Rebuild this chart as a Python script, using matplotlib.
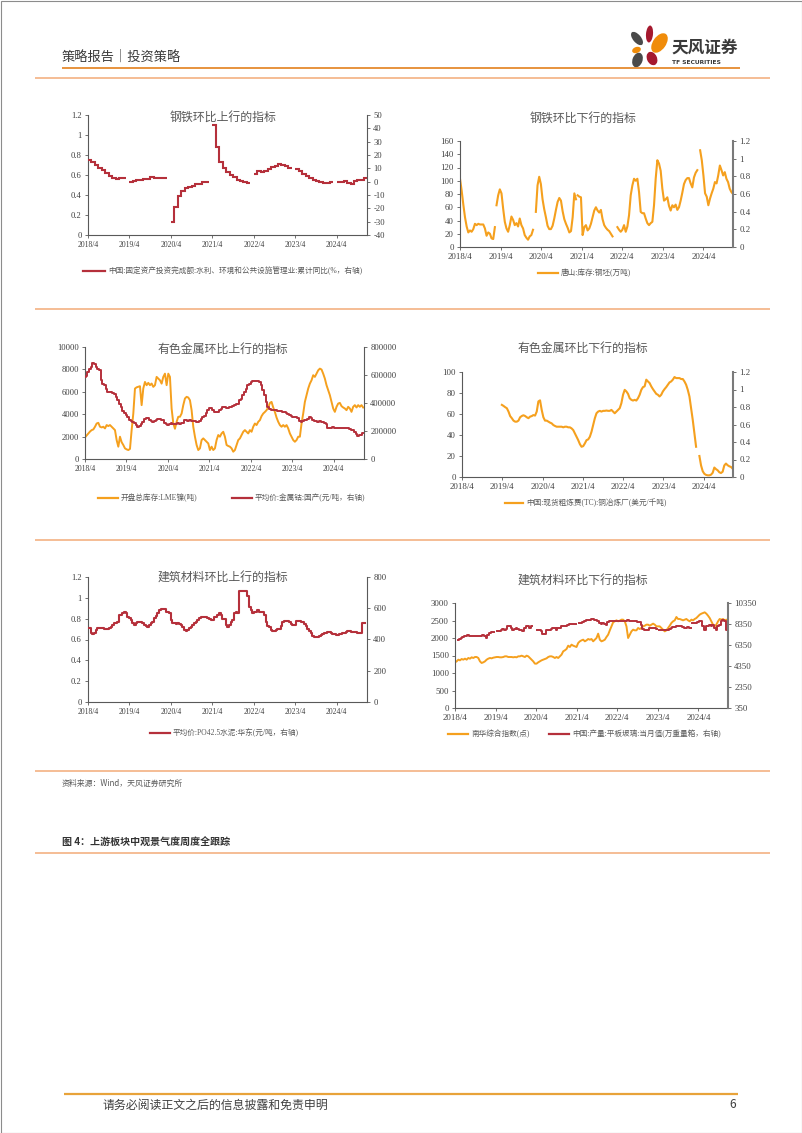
import numpy as np
import matplotlib
matplotlib.use('Agg')
import matplotlib.pyplot as plt
from matplotlib.lines import Line2D
from matplotlib.patches import Ellipse, Rectangle

# ---------------------------------------------------------------- data
TICK_LABELS = ['2018/4', '2019/4', '2020/4', '2021/4', '2022/4', '2023/4', '2024/4']

# 1) 钢铁环比上行: 固定资产投资完成额:水利、环境和公共设施管理业:累计同比(%) monthly from 2018/4
INFRA_START = 2018.25
INFRA_YOY = [16, 14.5, 12.5, 10.5, 9, 6.5, 4.5, 3, 2, 2.5, 3, np.nan,
             -0.5, 0.5, 1, 1.5, 2, 2, 3.5, 2.5, 2.5, 3, 3, np.nan,
             -30, -19, -11, -7, -5, -4, -3, -2, -1.5, -0.5, 0, np.nan,
             42.5, 26, 15, 10.5, 7.5, 5, 3.5, 1.5, 0.5, -0.5, -1, np.nan,
             6, 8, 7.5, 8, 9.5, 11, 12, 13, 12.5, 11.5, 10, np.nan,
             9.5, 8, 6, 4.5, 3, 1.5, 0.5, -0.5, -1, -1, 0, np.nan,
             0, 0, 0.5, -1, -1.5, 0.5, 1, 1.5, 3]

# 2) 钢铁环比下行: 唐山:库存:钢坯(万吨), segments (start, end, values)
BILLET_SEG_START = [2018.25, 2019.15, 2020.12, 2021.15, 2022.13, 2024.17]
BILLET_SEG_END = [2019.11, 2020.05, 2021.11, 2022.01, 2024.10, 2024.98]
BILLET_SEGS = [
    [103, 85, 64, 45, 31, 22, 25, 23, 27, 35, 33, 35, 34, 34, 34, 28, 17, 22, 20, 13, 12, 30],
    [63, 78, 87, 81, 58, 38, 28, 23, 33, 46, 41, 33, 36, 31, 43, 33, 28, 18, 14, 11, 16, 18, 26],
    [53, 93, 106, 95, 72, 57, 45, 32, 27, 27, 32, 43, 56, 68, 74, 70, 54, 42, 35, 29, 22, 24, 45, 81, 72],
    [78, 76, 75, 18, 30, 33, 25, 28, 35, 45, 55, 60, 55, 52, 56, 42, 33, 29, 26, 24, 20, 16],
    [30, 26, 23, 26, 33, 23, 31, 48, 78, 93, 103, 100, 103, 83, 53, 51, 51, 43, 36, 33,
     36, 38, 63, 103, 131, 126, 115, 88, 70, 72, 75, 62, 55, 63, 60, 64, 56, 60, 70, 82,
     95, 101, 104, 104, 96, 90, 105, 112, 116],
    [146, 131, 108, 81, 76, 63, 73, 81, 88, 98, 96, 108, 123, 116, 108, 113, 103, 98, 88, 83, 80],
]

# 3) 有色金属环比上行: LME镍库存(吨) & 金属钴国产均价(元/吨)
METAL_UP_START, METAL_UP_END = 2018.25, 2024.96
LME_NICKEL = [1930, 2100, 2280, 2450, 2580, 2640, 2880, 3170, 3230, 2880,
              2820, 2880, 2730, 3030, 2940, 3030, 2880, 2730, 2580, 1690,
              1100, 1990, 1500, 1250, 950, 860, 800, 900, 2580, 4060,
              6290, 6400, 6450, 6500, 4810, 6300, 6880, 6590, 6800, 6590,
              6740, 6440, 6590, 7330, 7180, 7030, 6730, 7330, 7620, 6590,
              7620, 7330, 4500, 3200, 2700, 3320, 3770, 3770, 4060, 4810,
              5400, 5550, 5490, 5250, 4360, 2880, 1990, 1250, 800, 950,
              1690, 1840, 1690, 1540, 1390, 800, 1100, 800, 950, 1690,
              2140, 1990, 2280, 2430, 1990, 1250, 1160, 1100, 950, 650,
              800, 1250, 1690, 1840, 2140, 2430, 2580, 2430, 2280, 2580,
              2430, 2880, 3170, 3030, 3320, 3470, 3830, 4060, 4200, 4360,
              4600, 5000, 5100, 4600, 4200, 3700, 3320, 3030, 2880, 3030,
              2880, 3030, 2730, 2280, 1990, 1690, 1540, 1690, 1990, 1990,
              3170, 4060, 5100, 5700, 6290, 6730, 7030, 7480, 7330, 7620,
              7920, 8070, 7990, 7620, 7180, 6590, 6140, 5700, 5100, 4510,
              4210, 4660, 4950, 5010, 4720, 4600, 4510, 4360, 4660, 4510,
              4210, 4660, 4810, 4600, 4810, 4660, 4810, 4600]
COBALT = [586000, 590000, 622000, 646000, 658000, 686000, 680000, 658000, 646000, 634000,
          563000, 539000, 527000, 503000, 480000, 480000, 480000, 472000, 463000, 444000,
          420000, 396000, 368000, 344000, 330000, 313000, 297000, 278000, 273000, 266000,
          254000, 242000, 230000, 235000, 249000, 266000, 283000, 290000, 290000, 278000,
          273000, 266000, 273000, 278000, 283000, 283000, 278000, 278000, 259000, 249000,
          242000, 247000, 254000, 247000, 247000, 249000, 254000, 249000, 254000, 259000,
          278000, 278000, 273000, 278000, 273000, 273000, 273000, 266000, 266000, 273000,
          283000, 297000, 306000, 325000, 349000, 361000, 361000, 349000, 337000, 337000,
          337000, 349000, 354000, 368000, 368000, 361000, 361000, 368000, 373000, 377000,
          385000, 392000, 396000, 420000, 432000, 456000, 480000, 503000, 527000, 539000,
          551000, 558000, 558000, 558000, 558000, 551000, 527000, 491000, 456000, 408000,
          373000, 354000, 349000, 349000, 349000, 349000, 346000, 344000, 340000, 337000,
          333000, 330000, 320000, 313000, 306000, 301000, 297000, 297000, 290000, 273000,
          266000, 273000, 278000, 278000, 283000, 297000, 290000, 278000, 273000, 273000,
          266000, 273000, 266000, 266000, 254000, 249000, 223000, 223000, 223000, 225000,
          223000, 223000, 223000, 223000, 223000, 223000, 220000, 218000, 218000, 211000,
          206000, 206000, 195000, 178000, 164000, 171000, 171000, 183000]

# 4) 有色金属环比下行: 现货粗炼费(TC):铜冶炼厂(美元/千吨)
COPPER_TC_START, COPPER_TC_END = 2019.24, 2024.97
COPPER_TC = [68.7, 67.7, 66.5, 65.5, 62.3, 58, 56, 53.7, 52.7, 52.7,
             53.7, 56.9, 58.1, 58.8, 58.1, 56.9, 56, 57.5, 58, 59,
             58.5, 62.3, 72, 73, 63.9, 56.9, 53.7, 53.7, 52.7, 51.8,
             51.1, 49.5, 48.6, 47.9, 47.9, 47.9, 47.9, 47.3, 47.9, 47.9,
             47.3, 47.3, 46.3, 44.7, 41.5, 38.3, 35.1, 31.3, 28.8, 29.4,
             32, 35.1, 35.8, 38.3, 43.1, 49.5, 55.9, 60.7, 62.3, 63,
             62.3, 63, 63, 63.3, 63, 63, 63.9, 62.3, 60.7, 62.3,
             63.9, 65.5, 70.3, 78.3, 83, 81.5, 79.2, 75, 73.5, 72.8,
             73.5, 72.8, 75, 78.3, 83, 85.6, 86.3, 92.7, 91, 89.5,
             86.3, 83.7, 81.5, 79.2, 78.3, 76.7, 78.3, 81.5, 83.7, 85.6,
             87.9, 90.1, 91, 92.7, 95.2, 94.2, 94.2, 94.2, 93.3, 93.3,
             91, 87.9, 83, 76.7, 65.5, 54.3, 41.5, 28.8, np.nan, 20,
             11, 5.5, 3, 2, 1.6, 1.6, 2.2, 4, 9, 7.5,
             6.4, 4.5, 3.8, 5, 11, 12.8, 11.2, 10.2, 9.6, 8]

# 5) 建筑材料环比上行: 平均价:PO42.5水泥:华东(元/吨)
CEMENT_START, CEMENT_END = 2018.25, 2024.93
CEMENT = [472, 472, 440, 435, 440, 461, 472, 472, 472, 472,
          465, 465, 465, 472, 483, 493, 504, 504, 515, 558,
          558, 568, 579, 568, 547, 536, 526, 504, 493, 504,
          515, 515, 515, 504, 493, 487, 483, 493, 504, 515,
          536, 551, 568, 590, 594, 594, 594, 579, 573, 568,
          526, 504, 504, 500, 504, 497, 493, 483, 461, 457,
          461, 472, 483, 493, 504, 515, 526, 536, 543, 547,
          547, 543, 536, 530, 526, 526, 543, 547, 558, 568,
          558, 530, 530, 493, 483, 493, 515, 526, 568, 573,
          568, 708, 708, 708, 708, 708, 676, 611, 590, 568,
          573, 579, 586, 579, 573, 573, 558, 510, 487, 480,
          460, 453, 453, 460, 467, 467, 487, 513, 520, 520,
          520, 513, 500, 493, 493, 520, 520, 517, 513, 510,
          500, 487, 467, 453, 440, 420, 413, 413, 413, 420,
          427, 433, 440, 440, 447, 447, 440, 433, 433, 427,
          427, 433, 433, 440, 440, 447, 453, 453, 450, 447,
          447, 447, 443, 440, 440, 507, 507]

# 6) 建筑材料环比下行: 南华综合指数(点) & 平板玻璃产量当月值(万重量箱)
NANHUA_START, NANHUA_END = 2018.25, 2024.98
NANHUA = [1305, 1333, 1381, 1362, 1400, 1381, 1410, 1381, 1429, 1410,
          1448, 1429, 1457, 1457, 1429, 1333, 1286, 1305, 1333, 1381,
          1410, 1429, 1419, 1438, 1448, 1457, 1457, 1448, 1448, 1457,
          1476, 1476, 1457, 1457, 1457, 1448, 1457, 1448, 1476, 1476,
          1495, 1476, 1457, 1495, 1476, 1429, 1381, 1333, 1267, 1267,
          1305, 1333, 1362, 1381, 1400, 1419, 1457, 1476, 1476, 1457,
          1429, 1457, 1429, 1476, 1524, 1619, 1648, 1686, 1781, 1743,
          1810, 1781, 1762, 1743, 1857, 1905, 1933, 1952, 1905, 1933,
          1971, 1952, 1971, 1905, 1952, 2000, 2124, 1952, 1905, 1924,
          1952, 2029, 2095, 2219, 2333, 2448, 2476, 2505, 2476, 2495,
          2524, 2524, 2476, 2333, 2000, 2095, 2190, 2238, 2219, 2219,
          2286, 2257, 2286, 2333, 2352, 2381, 2381, 2352, 2381, 2410,
          2381, 2333, 2333, 2333, 2286, 2238, 2190, 2219, 2286, 2352,
          2429, 2476, 2505, 2600, 2543, 2543, 2524, 2505, 2524, 2543,
          2505, 2476, 2524, 2505, 2543, 2571, 2619, 2667, 2695, 2714,
          2733, 2695, 2638, 2571, 2476, 2381, 2333, 2381, 2476, 2543,
          2524, 2543, 2505, 2524, 2476]
GLASS_START, GLASS_END = 2018.33, 2024.98
N = np.nan
GLASS = [6795, 6922, 7018, 7113, 7176, 7240, 7335, 7240, 7240, 7240,
         7240, 7240, 7176, 7176, 7240, 7335, 7176, 7018, 7335, 7494,
         7557, 7557, N, N, 7652, 7652, 7811, 7875, 7811, 7875,
         8129, 8192, 7970, 7811, 7875, 7970, 7875, 7811, 7748, 7652,
         7970, 8129, 8129, 7970, 8129, N, N, N, 7811, 7811,
         7652, 7430, 7430, 7748, 7811, 7811, 7875, 7970, 7970, 7811,
         7970, 7970, 8129, 8129, 8129, 8192, 8287, 8351, 8351, 8351,
         8351, N, N, 8446, 8446, 8510, 8668, 8763, 8763, 8763,
         8827, 8827, 8763, 8700, 8605, 8446, 8351, 8446, 8383, 8287,
         8510, 8605, 8668, 8668, 8605, 8668, 8668, 8668, 8605, 8668,
         8605, 8668, 8700, 8668, 8605, 8605, 8605, 8605, 8541, 8510,
         8287, 7875, 7811, 7811, 7811, 7970, 7970, 7970, 7970, 7875,
         N, 7811, 7780, 7748, 7780, 7811, 7748, 7875, 7970, 8033,
         8033, 8129, 8129, 8129, 8129, 8065, 7970, 7970, 8033, 7970,
         N, 8446, 8446, 8446, 8510, 8605, 8605, 8129, 7811, 8129,
         8192, 8287, 8192, 8287, 7970, 7811, 8129, 8287, 8605, 8763,
         8605, 7811, 7748]

# axis tick values
TICKS_0_12 = [0, 0.2, 0.4, 0.6, 0.8, 1, 1.2]
TICKS_INFRA = [-40, -30, -20, -10, 0, 10, 20, 30, 40, 50]
TICKS_BILLET = [0, 20, 40, 60, 80, 100, 120, 140, 160]
TICKS_NICKEL = [0, 2000, 4000, 6000, 8000, 10000]
TICKS_COBALT = [0, 200000, 400000, 600000, 800000]
TICKS_TC = [0, 20, 40, 60, 80, 100]
TICKS_CEMENT = [0, 200, 400, 600, 800]
TICKS_NANHUA = [0, 500, 1000, 1500, 2000, 2500, 3000]
TICKS_GLASS = [350, 2350, 4350, 6350, 8350, 10350]

# ---------------------------------------------------------------- style
W, H = 802, 1133
CJK = ['Noto Sans CJK SC', 'DejaVu Sans']
SERIF = ['Liberation Serif', 'Noto Sans CJK SC', 'DejaVu Sans']
plt.rcParams['font.family'] = SERIF
RED = '#B5303B'
ORANGE = '#F5A01E'
AXC = '#595959'
TXT = '#404040'

fig = plt.figure(figsize=(W / 100, H / 100), dpi=100)
fig.patch.set_facecolor('white')


def fx(x):
    return x / W


def fy(y):
    return 1 - y / H


def box(x0, y0, x1, y1):
    return [x0 / W, 1 - y1 / H, (x1 - x0) / W, (y1 - y0) / H]


def label_pos(s):
    y, m = s.split('/')
    return int(y) + (int(m) - 1) / 12


X_MIN, X_MAX = label_pos(TICK_LABELS[0]), 2024.98


def fmt(v):
    return f"{v:g}"


def make_panel(b, lticks, rticks, xfs, yfs, right_col):
    ax = fig.add_axes(box(*b))
    ax2 = ax.twinx()
    ax.set_xlim(X_MIN, X_MAX)
    ax.set_xticks([label_pos(s) for s in TICK_LABELS])
    ax.set_xticklabels(TICK_LABELS)
    ax.set_ylim(lticks[0], lticks[-1])
    ax.set_yticks(lticks)
    ax.set_yticklabels([fmt(v) for v in lticks])
    ax2.set_ylim(rticks[0], rticks[-1])
    ax2.set_yticks(rticks)
    ax2.set_yticklabels([fmt(v) for v in rticks])
    ax.spines['top'].set_visible(False)
    ax.spines['right'].set_visible(False)
    for s in ('top', 'left', 'bottom'):
        ax2.spines[s].set_visible(False)
    for s in ('left', 'bottom'):
        ax.spines[s].set_color(AXC)
        ax.spines[s].set_linewidth(0.8)
    ax2.spines['right'].set_color('#7a7a7a' if right_col else AXC)
    ax2.spines['right'].set_linewidth(1.5 if right_col else 0.8)
    ax.tick_params(axis='x', direction='out', length=2.5, width=0.6, color=AXC,
                   labelsize=xfs, labelcolor=TXT, pad=2)
    ax.tick_params(axis='y', direction='out', length=2.5, width=0.6, color=AXC,
                   labelsize=yfs, labelcolor=TXT, pad=2)
    ax2.tick_params(axis='y', direction='out', length=2.5, width=0.6, color=AXC,
                    labelsize=yfs, labelcolor=TXT, pad=2)
    return ax, ax2


def title(x, y, s):
    fig.text(fx(x), fy(y), s, ha='center', va='center', fontsize=8.6,
             color='#595959', family=CJK)


def legend_item(x0, x1, y, color, s, fs=5.5):
    fig.add_artist(Line2D([fx(x0), fx(x1)], [fy(y), fy(y)], color=color, lw=1.6,
                          transform=fig.transFigure))
    fig.text(fx(x1 + 3), fy(y), s, ha='left', va='center', fontsize=fs,
             color='#595959', family=SERIF)


def hline(y, x0, x1, color, lw):
    fig.add_artist(Line2D([fx(x0), fx(x1)], [fy(y), fy(y)], color=color, lw=lw,
                          transform=fig.transFigure, solid_capstyle='butt'))


# ---------------------------------------------------------------- panel 1
ax, ax2 = make_panel((88, 115, 367, 235), TICKS_0_12, TICKS_INFRA, 5.5, 6.2, False)
edges = INFRA_START + np.arange(len(INFRA_YOY) + 1) / 12
ax2.stairs(np.array(INFRA_YOY, dtype=float), edges, color=RED, lw=1.5, baseline=None)
title(223, 117, '钢铁环比上行的指标')
legend_item(83, 105, 271, RED, '中国:固定资产投资完成额:水利、环境和公共设施管理业:累计同比(%，右轴)')

# ---------------------------------------------------------------- panel 2
ax, ax2 = make_panel((460, 141, 733, 247), TICKS_BILLET, TICKS_0_12, 6.3, 6.3, True)
for s0, s1, vals in zip(BILLET_SEG_START, BILLET_SEG_END, BILLET_SEGS):
    ax.plot(np.linspace(s0, s1, len(vals)), vals, color=ORANGE, lw=1.5)
title(583, 118, '钢铁环比下行的指标')
legend_item(538, 558, 273, ORANGE, '唐山:库存:钢坯(万吨)')

# ---------------------------------------------------------------- panel 3
ax, ax2 = make_panel((85, 347, 364, 459), TICKS_NICKEL, TICKS_COBALT, 5.5, 6.2, False)
ax.plot(np.linspace(METAL_UP_START, METAL_UP_END, len(LME_NICKEL)), LME_NICKEL,
        color=ORANGE, lw=1.4)
ax2.plot(np.linspace(METAL_UP_START, METAL_UP_END, len(COBALT)), COBALT,
         color=RED, lw=1.4, drawstyle='steps-mid')
title(223, 349, '有色金属环比上行的指标')
legend_item(98, 118, 498, ORANGE, '开盘总库存:LME镍(吨)')
legend_item(232, 252, 498, RED, '平均价:金属钴:国产(元/吨，右轴)')

# ---------------------------------------------------------------- panel 4
ax, ax2 = make_panel((462, 372, 733, 477), TICKS_TC, TICKS_0_12, 6.3, 6.3, True)
ax.plot(np.linspace(COPPER_TC_START, COPPER_TC_END, len(COPPER_TC)), COPPER_TC,
        color=ORANGE, lw=1.5)
title(583, 348, '有色金属环比下行的指标')
legend_item(505, 523, 503, ORANGE, '中国:现货粗炼费(TC):铜冶炼厂(美元/千吨)')

# ---------------------------------------------------------------- panel 5
ax, ax2 = make_panel((88, 577, 367, 702), TICKS_0_12, TICKS_CEMENT, 5.5, 6.2, False)
ax2.plot(np.linspace(CEMENT_START, CEMENT_END, len(CEMENT)), CEMENT,
         color=RED, lw=1.5, drawstyle='steps-mid')
title(223, 578, '建筑材料环比上行的指标')
legend_item(150, 170, 733, RED, '平均价:PO42.5水泥:华东(元/吨，右轴)')

# ---------------------------------------------------------------- panel 6
ax, ax2 = make_panel((455, 603, 728, 708), TICKS_NANHUA, TICKS_GLASS, 6.3, 6.3, True)
ax.plot(np.linspace(NANHUA_START, NANHUA_END, len(NANHUA)), NANHUA,
        color=ORANGE, lw=1.4)
ax2.plot(np.linspace(GLASS_START, GLASS_END, len(GLASS)), GLASS,
         color=RED, lw=1.4, drawstyle='steps-mid')
title(583, 581, '建筑材料环比下行的指标')
legend_item(448, 468, 734, ORANGE, '南华综合指数(点)')
legend_item(549, 569, 734, RED, '中国:产量:平板玻璃:当月值(万重量箱，右轴)')

# ---------------------------------------------------------------- page decoration
fig.text(fx(62), fy(57), '策略报告｜投资策略', ha='left', va='center', fontsize=9.5,
         color='#3a3a3a', family=CJK)
hline(68, 62, 740, '#E58A2E', 1.3)
for yy in (78, 309, 540, 771, 853):
    hline(yy, 35, 770, '#F4B183', 1.2)
fig.text(fx(62), fy(783), '资料来源：Wind，天风证券研究所', ha='left', va='center',
         fontsize=5.7, color='#595959', family=CJK)
fig.text(fx(62), fy(843), '图 4：上游板块中观景气度周度全跟踪', ha='left', va='center',
         fontsize=7.2, color='#333333', family=CJK, weight='bold')
hline(1094, 64, 738, '#E8A33A', 1.6)
fig.text(fx(103), fy(1105), '请务必阅读正文之后的信息披露和免责申明', ha='left', va='center',
         fontsize=8.6, color='#404040', family=CJK)
fig.text(fx(733), fy(1105), '6', ha='center', va='center', fontsize=8.6,
         color='#404040', family=CJK)

# logo
lax = fig.add_axes(box(600, 20, 760, 75))
lax.set_xlim(600, 760)
lax.set_ylim(75, 20)
lax.axis('off')
petals = [((637, 38.5), 8, 16, -40, '#4a4a4a'),
          ((649.5, 34), 7, 17, 5, '#A5192E'),
          ((659.5, 43), 13, 22, 35, '#F08C0A'),
          ((636.5, 50), 9, 6, -20, '#F08C0A'),
          ((637.5, 60), 10, 15, 20, '#4a4a4a'),
          ((652, 58.5), 10, 14, -25, '#A5192E')]
for c, w_, h_, ang, col in petals:
    lax.add_patch(Ellipse(c, w_, h_, angle=ang, color=col, lw=0))
lax.text(705, 47.5, '天风证券', ha='center', va='center', fontsize=12,
         color='#3a3a3a', family=CJK, weight='bold')
lax.text(696, 62.5, 'TF SECURITIES', ha='center', va='center', fontsize=4.3,
         color='#3a3a3a', family=['DejaVu Sans'], weight='bold')

# page border
fig.add_artist(Rectangle((0.5 / W, 0.5 / H), 1 - 1 / W, 1 - 1 / H, fill=False,
                         ec='#8c8c8c', lw=0.8, transform=fig.transFigure))

fig.savefig('out.png', dpi=100, facecolor='white')
